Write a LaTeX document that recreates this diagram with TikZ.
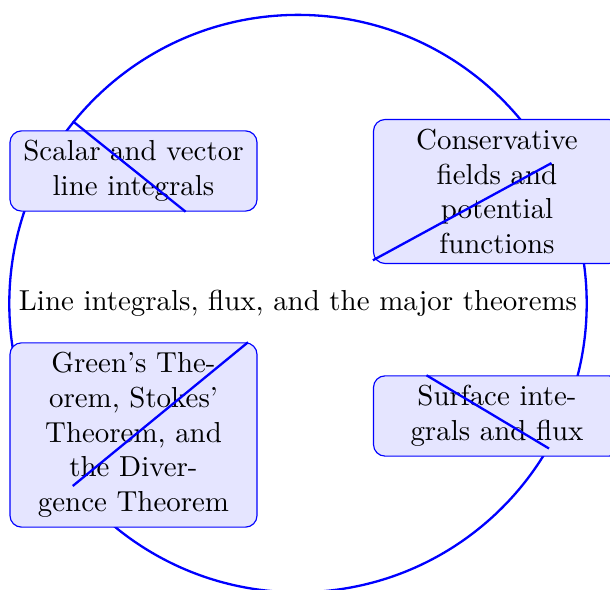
\documentclass[tikz,border=0pt]{standalone}
\begin{document}
\begin{tikzpicture}[x=0.346pt,y=-0.346pt,
  hub/.style={circle, draw=blue, line width=0.8pt, inner sep=3.33pt},
  topic/.style={rectangle, rounded corners=4pt, draw=blue, line width=0.4pt, fill=blue!10, text width=78.8pt, align=center, inner sep=3.33pt},
  link/.style={draw=blue, line width=0.8pt}]
\useasboundingbox (0,0) rectangle (610,590);
\node[hub] (c) at (298,303.6) {Line integrals, flux, and the major theorems};
\node[topic] (b1) at (133.5,171) {Scalar and vector line integrals};
\node[topic] (b2) at (497,191.5) {Conservative fields and potential functions};
\node[topic] (b3) at (133.5,435) {Green's The-\\orem, Stokes'\\Theorem, and\\the Diver-\\gence Theorem};
\node[topic] (b4) at (497,416) {Surface integrals and flux};
\draw[link] (c.141.5) -- (b1.-38.5);
\draw[link] (c.29.5) -- (b2.209.5);
\draw[link] (c.-141) -- (b3.39);
\draw[link] (c.-30) -- (b4.150);
\end{tikzpicture}
\end{document}
